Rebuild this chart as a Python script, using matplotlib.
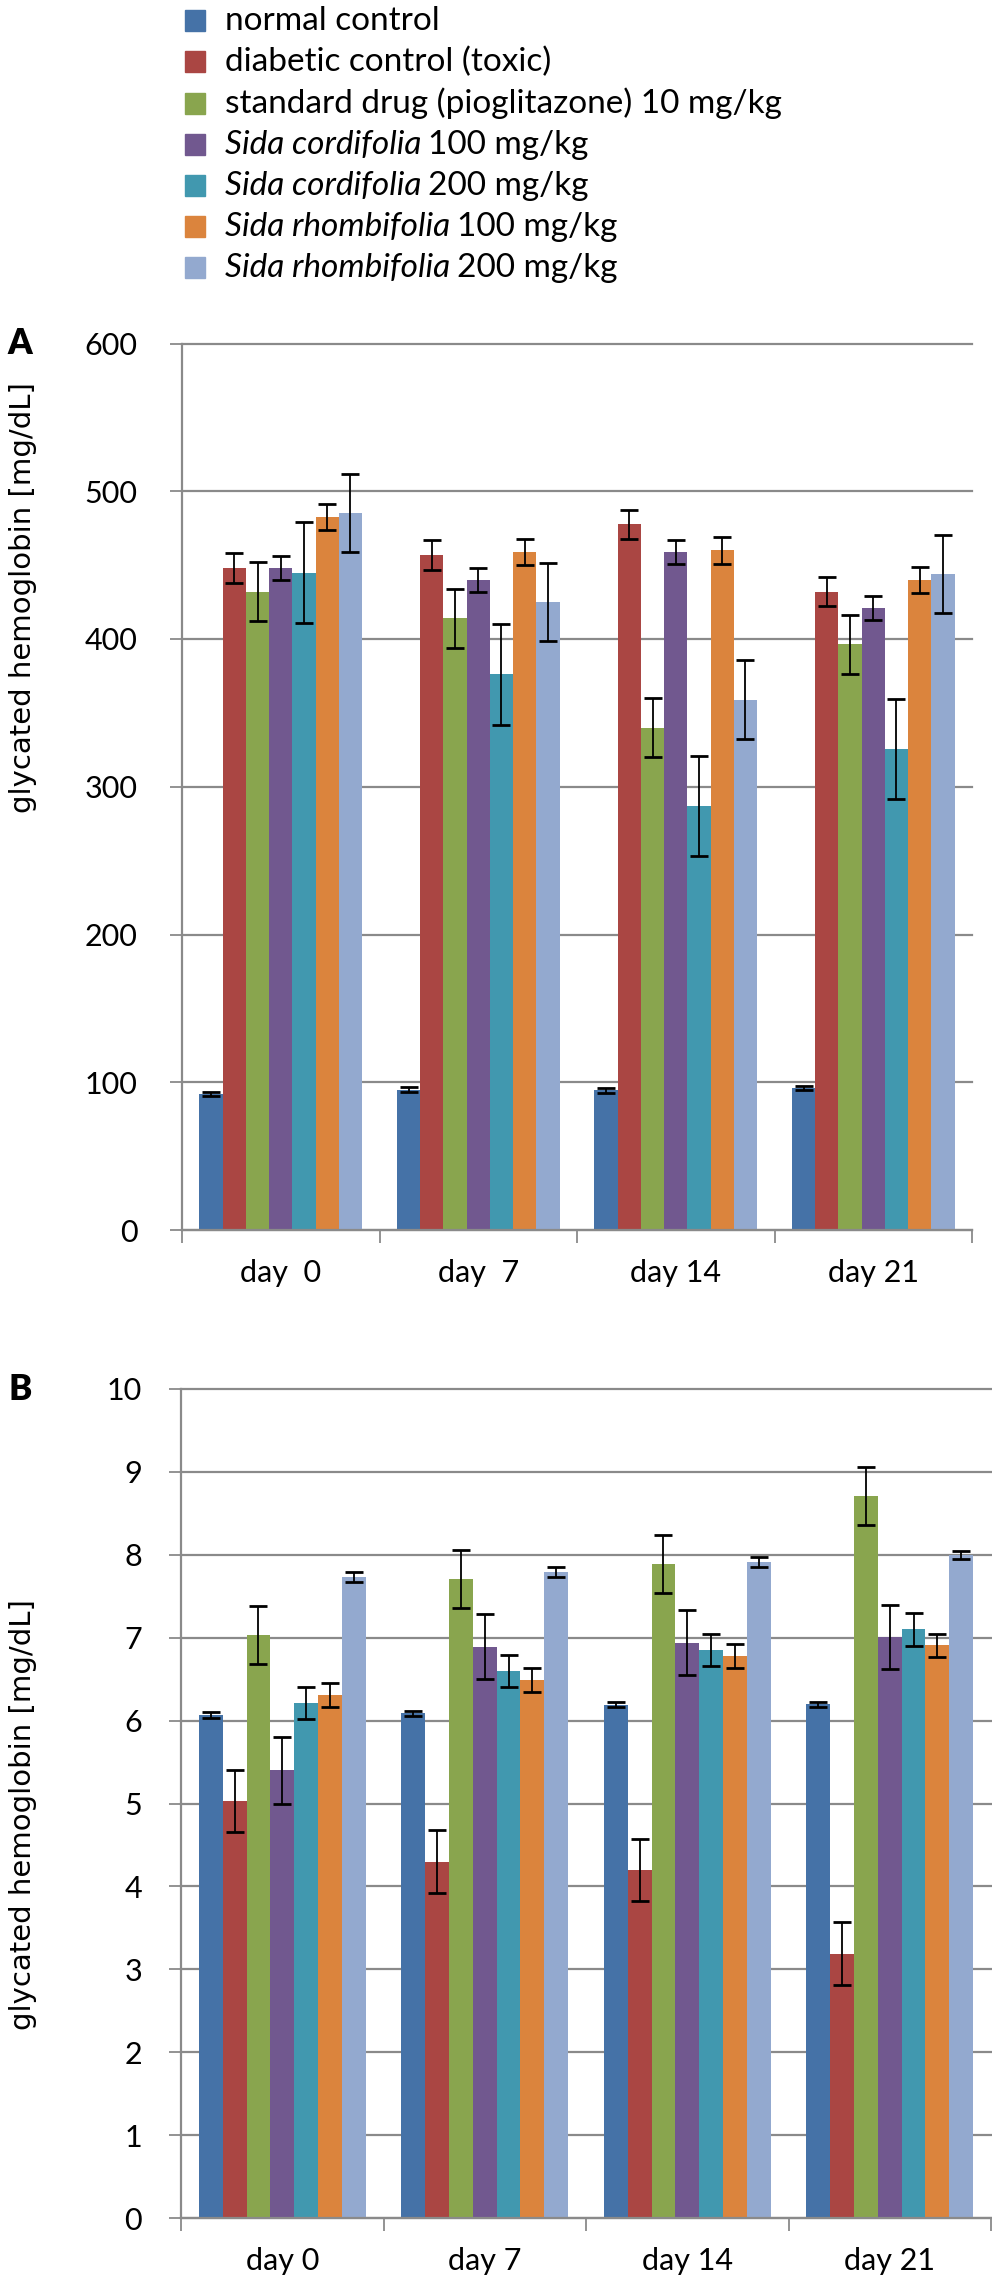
import numpy as np
import matplotlib
matplotlib.use('Agg')
import matplotlib.pyplot as plt
from matplotlib.patches import Rectangle

# categories
days_a = ['day  0', 'day  7', 'day 14', 'day 21']
days_b = ['day 0', 'day 7', 'day 14', 'day 21']

# legend names (italic part, plain part)
names_it = ['', '', '', 'Sida cordifolia', 'Sida cordifolia', 'Sida rhombifolia', 'Sida rhombifolia']
names_rm = ['normal control', 'diabetic control (toxic)', 'standard drug (pioglitazone) 10 mg/kg',
            '100 mg/kg', '200 mg/kg', '100 mg/kg', '200 mg/kg']
colors = ['#4572A7', '#AA4643', '#89A54E', '#71588F', '#4198AF', '#DB843D', '#93A9CF']

# panel A values, one list per group over the four days
a_normal = [92, 95, 94.5, 96]
a_diabetic = [448, 457, 477.5, 432]
a_standard = [432, 414, 340, 396.5]
a_sc100 = [448, 440, 459, 421]
a_sc200 = [445, 376, 287, 325.5]
a_sr100 = [482.5, 459, 460, 440]
a_sr200 = [485.5, 425, 359, 444]
a_err_normal = [1.5, 1.5, 1.5, 1.5]
a_err_diabetic = [10, 10, 10, 10]
a_err_standard = [20, 20, 20, 20]
a_err_sc100 = [8, 8, 8, 8]
a_err_sc200 = [34, 34, 34, 34]
a_err_sr100 = [9, 9, 9, 9]
a_err_sr200 = [26.5, 26.5, 26.5, 26.5]

# panel B values
b_normal = [6.07, 6.09, 6.19, 6.20]
b_diabetic = [5.03, 4.30, 4.20, 3.19]
b_standard = [7.03, 7.71, 7.89, 8.71]
b_sc100 = [5.40, 6.89, 6.94, 7.01]
b_sc200 = [6.21, 6.60, 6.85, 7.10]
b_sr100 = [6.31, 6.49, 6.78, 6.91]
b_sr200 = [7.73, 7.79, 7.91, 8.00]
b_err_normal = [0.035, 0.03, 0.03, 0.03]
b_err_diabetic = [0.375, 0.38, 0.375, 0.38]
b_err_standard = [0.35, 0.35, 0.35, 0.35]
b_err_sc100 = [0.40, 0.39, 0.39, 0.39]
b_err_sc200 = [0.19, 0.19, 0.19, 0.20]
b_err_sr100 = [0.14, 0.14, 0.14, 0.14]
b_err_sr200 = [0.06, 0.06, 0.06, 0.05]

a_vals = [a_normal, a_diabetic, a_standard, a_sc100, a_sc200, a_sr100, a_sr200]
a_errs = [a_err_normal, a_err_diabetic, a_err_standard, a_err_sc100, a_err_sc200, a_err_sr100, a_err_sr200]
b_vals = [b_normal, b_diabetic, b_standard, b_sc100, b_sc200, b_sr100, b_sr200]
b_errs = [b_err_normal, b_err_diabetic, b_err_standard, b_err_sc100, b_err_sc200, b_err_sr100, b_err_sr200]

W, H = 992, 2291
GRAY = '#8a8a8a'
plt.rcParams['font.family'] = ['Lato', 'DejaVu Sans']

fig = plt.figure(figsize=(W / 100, H / 100), dpi=100)


def fx(px):
    return px / W


def fy(py):
    return 1 - py / H


def panel(rect, vals, errs, labels, ymax, step, ypad):
    ax = fig.add_axes(rect)
    x = np.arange(len(labels))
    w = 1 / 8.5
    for i, (v, e) in enumerate(zip(vals, errs)):
        ax.bar(x + (i - 3) * w, v, w, yerr=e, color=colors[i], zorder=2,
               error_kw=dict(ecolor='black', elinewidth=1.3, capsize=6.5, capthick=2.0, zorder=3))
    ax.set_xlim(-0.5, len(labels) - 0.5)
    ax.set_ylim(0, ymax)
    ax.set_yticks(np.arange(0, ymax + step / 2, step))
    ax.set_xticks(np.arange(-0.5, len(labels), 1))
    ax.set_xticklabels([])
    ax.set_xticks(x, labels, minor=True)
    ax.tick_params(axis='x', which='major', length=9, width=1.3, color=GRAY)
    ax.tick_params(axis='x', which='minor', length=0, pad=21, labelsize=22)
    ax.tick_params(axis='y', length=9, width=1.3, color=GRAY, pad=ypad, labelsize=22)
    ax.yaxis.grid(True, color=GRAY, lw=1.6, zorder=0)
    ax.set_axisbelow(True)
    for s in ['top', 'right']:
        ax.spines[s].set_visible(False)
    for s in ['left', 'bottom']:
        ax.spines[s].set_color(GRAY)
        ax.spines[s].set_linewidth(1.6)
    for gl in ax.yaxis.get_gridlines():
        gl.set_clip_on(False)
    return ax


ax_a = panel([fx(182), fy(1230), fx(972) - fx(182), fy(343.5) - fy(1230)],
             a_vals, a_errs, days_a, 600, 100, 23)
ax_b = panel([fx(181), fy(2218), fx(991) - fx(181), fy(1389) - fy(2218)],
             b_vals, b_errs, days_b, 10, 1, 19)

ylab = 'glycated hemoglobin [mg/dL]'
fig.text(fx(23), fy(598), ylab, rotation=90, ha='center', va='center', fontsize=21, family='DejaVu Sans')
fig.text(fx(23), fy(1815), ylab, rotation=90, ha='center', va='center', fontsize=21, family='DejaVu Sans')
fig.text(fx(20), fy(343), 'A', ha='center', va='center', fontsize=25, weight='heavy')
fig.text(fx(20), fy(1390), 'B', ha='center', va='center', fontsize=25, weight='heavy')

# legend drawn by hand so the species names can be italic
renderer = fig.canvas.get_renderer()
for i in range(len(colors)):
    yc = 20.7 + i * 41.2
    fig.patches.append(Rectangle((fx(185), fy(yc + 10.5)), 20 / W, 21 / H, color=colors[i],
                                 transform=fig.transFigure, figure=fig))
    xpos = 225
    if names_it[i]:
        t = fig.text(fx(xpos), fy(yc + 9.5), names_it[i], style='italic', fontsize=24, va='baseline')
        xpos += t.get_window_extent(renderer).width + 7
    fig.text(fx(xpos), fy(yc + 9.5), names_rm[i], fontsize=24, va='baseline')

fig.savefig('out.png', dpi=100)
